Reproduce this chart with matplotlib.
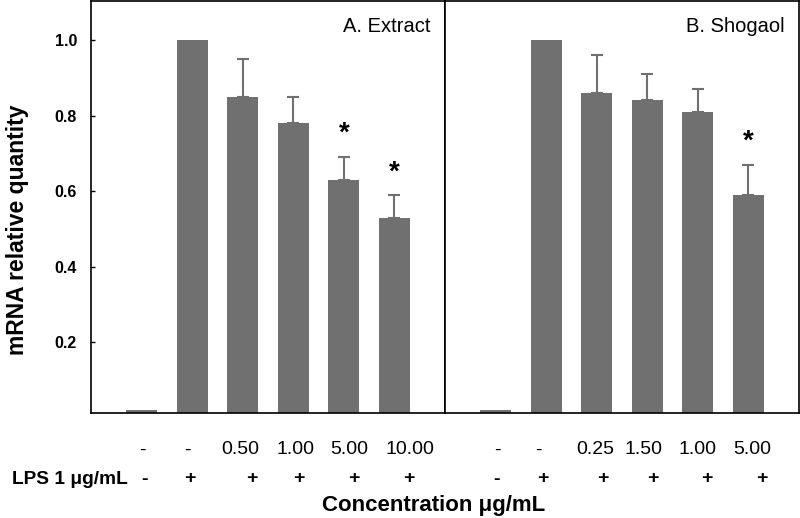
import numpy as np
import matplotlib
matplotlib.use('Agg')
import matplotlib.pyplot as plt

plt.rcParams['font.family'] = ['Liberation Sans', 'DejaVu Sans']

# data
extract_vals = [0.022, 1.0, 0.85, 0.78, 0.63, 0.53]
extract_err = [0, 0, 0.10, 0.07, 0.06, 0.06]
extract_star = [None, None, None, None, 0.766, 0.663]
shogaol_vals = [0.022, 1.0, 0.86, 0.84, 0.81, 0.59]
shogaol_err = [0, 0, 0.10, 0.07, 0.06, 0.08]
shogaol_star = [None, None, None, None, None, 0.744]

extract_conc = ['-', '-', '0.50', '1.00', '5.00', '10.00']
shogaol_conc = ['-', '-', '0.25', '1.50', '1.00', '5.00']
lps_extract = ['-', '+', '+', '+', '+', '+']
lps_shogaol = ['-', '+', '+', '+', '+', '+']

yticks = [0.2, 0.4, 0.6, 0.8, 1.0]

bar_color = '#707070'
W, H = 800, 518

fig = plt.figure(figsize=(8, 5.18), dpi=100)
ax1 = fig.add_axes([91 / W, 104.7 / H, 354 / W, 412.3 / H])
ax2 = fig.add_axes([445 / W, 104.7 / H, 354 / W, 412.3 / H])

x = np.arange(1, 7)
for ax, vals, err, stars, title in [(ax1, extract_vals, extract_err, extract_star, 'A. Extract'),
                                     (ax2, shogaol_vals, shogaol_err, shogaol_star, 'B. Shogaol')]:
    ax.bar(x, vals, width=0.61, color=bar_color, zorder=2)
    # upper error bars only
    for xi, v, e in zip(x, vals, err):
        if e > 0:
            ax.errorbar(xi, v, yerr=[[0], [e]], fmt='none', ecolor=bar_color,
                        elinewidth=1.5, capsize=4.5, capthick=1.5, zorder=1)
    for xi, s in zip(x, stars):
        if s is not None:
            ax.text(xi, s - 0.014, '*', ha='center', va='center', fontsize=20, fontweight='bold')
    ax.set_xlim(0, 7)
    ax.set_ylim(0.012, 1.103)
    ax.set_xticks([])
    ax.text(0.958, 0.937, title, transform=ax.transAxes, ha='right', va='center', fontsize=14.5)
    for sp in ax.spines.values():
        sp.set_linewidth(1.2)

ax1.set_yticks(yticks)
ax1.set_yticklabels(['%.1f' % t for t in yticks], fontweight='bold', fontsize=11.5)
ax1.tick_params(axis='y', direction='in', length=3, width=1, pad=10)
ax2.set_yticks([])

fig.text(18 / W, 1 - 230 / H, 'mRNA relative quantity', rotation=90, ha='center', va='center',
         fontsize=16.5, fontweight='bold')

# treatment rows under the bars
row1_px = [142, 187, 240, 296, 349, 410, 497, 538, 595, 644, 697, 752]
row2_px = [145, 190, 252, 299, 354, 409, 497, 543, 603, 653, 707, 762]
for px, lab in zip(row1_px, extract_conc + shogaol_conc):
    fig.text(px / W, 1 - 450 / H, lab, ha='center', va='center', fontsize=14)
for px, lab in zip(row2_px, lps_extract + lps_shogaol):
    fig.text(px / W, 1 - 479 / H, lab, ha='center', va='center', fontsize=14, fontweight='bold')

fig.text(12 / W, 1 - 479 / H, 'LPS 1 μg/mL', ha='left', va='center', fontsize=13.8, fontweight='bold')
fig.text(434 / W, 1 - 505 / H, 'Concentration μg/mL', ha='center', va='center',
         fontsize=16, fontweight='bold')

fig.savefig('out.png', dpi=100)
